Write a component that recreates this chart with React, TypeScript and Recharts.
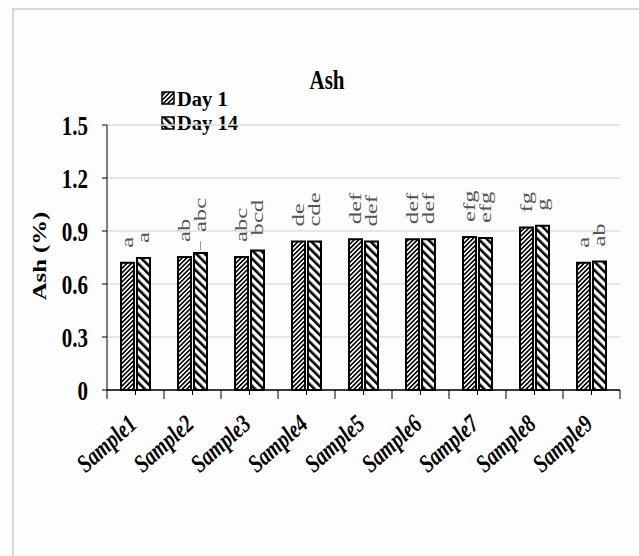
import { BarChart, Bar, XAxis, YAxis, CartesianGrid, LabelList } from 'recharts';

const samples = ['Sample1', 'Sample2', 'Sample3', 'Sample4', 'Sample5', 'Sample6', 'Sample7', 'Sample8', 'Sample9'];
const day1 = [0.72, 0.753, 0.753, 0.84, 0.854, 0.854, 0.866, 0.92, 0.72];
const day14 = [0.747, 0.775, 0.79, 0.84, 0.84, 0.854, 0.86, 0.93, 0.727];
const day1Letters = ['a', 'ab', 'abc', 'de', 'def', 'def', 'efg', 'fg', 'a'];
const day14Letters = ['a', 'abc', 'bcd', 'cde', 'def', 'def', 'efg', 'g', 'ab'];
const yTicks = [0, 0.3, 0.6, 0.9, 1.2, 1.5];

const data = samples.map((name, i) => ({
  name,
  day1: day1[i],
  day14: day14[i],
  l1: day1Letters[i],
  l14: day14Letters[i],
}));

const serif = '"Liberation Serif", "DejaVu Serif", serif';
const band = 513 / samples.length;

// letter label above each bar, rotated; `leader` marks the one raised with a small line
const letterLabel = (leader: number) => (props: any) => {
  const { x, y, width, value, index } = props;
  const cx = Number(x) + Number(width) / 2;
  const top = Number(y);
  const raised = index === leader;
  const lift = raised ? 21 : 15;
  return (
    <g>
      {raised && <line x1={cx} x2={cx} y1={top - 3} y2={top - 12} stroke="#999" strokeWidth={1} />}
      <text
        transform={`translate(${cx},${top - lift}) rotate(-90) scale(1.45,1)`}
        dominantBaseline="central"
        fontFamily={serif}
        fontSize={17}
        fill="#555"
      >
        {value}
      </text>
    </g>
  );
};

const SampleTick = (props: any) => {
  const { x, y, payload, index } = props;
  const axisY = y - 7;
  const left = x - band / 2;
  return (
    <g>
      <line x1={left} x2={left} y1={axisY} y2={axisY + 9} stroke="#000" strokeWidth={1} />
      {index === samples.length - 1 && (
        <line x1={x + band / 2} x2={x + band / 2} y1={axisY} y2={axisY + 9} stroke="#000" strokeWidth={1} />
      )}
      <text
        transform={`translate(${x + 3},${y + 29}) rotate(-42) scale(1,1.25)`}
        textAnchor="end"
        fontFamily={serif}
        fontWeight="bold"
        fontStyle="italic"
        fontSize={20}
        fill="#000"
      >
        {payload.value}
      </text>
    </g>
  );
};

const ValueTick = (props: any) => {
  const { x, y, payload } = props;
  return (
    <text
      transform={`translate(${x},${y}) scale(1,1.35)`}
      textAnchor="end"
      dominantBaseline="central"
      fontFamily={serif}
      fontWeight="bold"
      fontSize={21}
      fill="#000"
    >
      {payload.value}
    </text>
  );
};

function Swatch({ fill }: { fill: string }) {
  return (
    <svg width={14} height={14} style={{ display: 'block' }}>
      <rect x={1} y={1} width={12} height={12} fill={fill} stroke="#000" strokeWidth={1.5} />
    </svg>
  );
}

export default function App() {
  return (
    <div style={{ position: 'absolute', left: 0, top: 0, width: 639, height: 556, background: '#fdfdfd' }}>
      <div style={{ position: 'absolute', left: 12, top: 8, right: 0, height: 1.5, background: '#d6d6d6' }} />
      <div style={{ position: 'absolute', left: 12, top: 8, bottom: 0, width: 1.5, background: '#d6d6d6' }} />
      <div
        style={{
          position: 'absolute', left: 297, top: 70, width: 60, height: 20, textAlign: 'center',
          fontFamily: serif, fontWeight: 'bold', fontSize: 21, lineHeight: '20px', transform: 'scaleY(1.25)',
        }}
      >
        Ash
      </div>
      {[
        { label: 'Day 1', fill: 'url(#hatchFine)', top: 88 },
        { label: 'Day 14', fill: 'url(#hatchWide)', top: 112.5 },
      ].map((l) => (
        <div
          key={l.label}
          style={{
            position: 'absolute', left: 161, top: l.top, height: 20, display: 'flex', alignItems: 'center', gap: 2,
            fontFamily: serif, fontWeight: 'bold', fontSize: 19,
          }}
        >
          <Swatch fill={l.fill} />
          <span
            style={{
              display: 'inline-block', lineHeight: '15px', whiteSpace: 'nowrap',
              transform: 'scale(1.08,1.15)', transformOrigin: 'left center',
            }}
          >
            {l.label}
          </span>
        </div>
      ))}
      <div
        style={{
          position: 'absolute', left: 40, top: 256, whiteSpace: 'nowrap',
          transform: 'translate(-50%,-50%) rotate(-90deg) scaleX(1.3)',
          fontFamily: serif, fontWeight: 'bold', fontSize: 19, lineHeight: '20px', zIndex: 1,
        }}
      >
        Ash (%)
      </div>
      <BarChart
        width={639}
        height={556}
        data={data}
        margin={{ top: 125, right: 19, left: 0, bottom: 0 }}
        barCategoryGap={14}
        barGap={3}
        style={{ position: 'absolute', left: 0, top: 0 }}
      >
        <defs>
          <pattern id="hatchFine" width={3.2} height={3.2} patternUnits="userSpaceOnUse" patternTransform="rotate(45)">
            <rect width={3.2} height={3.2} fill="#fff" />
            <rect width={1.6} height={3.2} fill="#000" />
          </pattern>
          <pattern id="hatchWide" width={6} height={6} patternUnits="userSpaceOnUse" patternTransform="rotate(-45)">
            <rect width={6} height={6} fill="#fff" />
            <rect width={2.6} height={6} fill="#000" />
          </pattern>
        </defs>
        <CartesianGrid vertical={false} stroke="#dcdcdc" strokeWidth={1.5} />
        <XAxis
          dataKey="name"
          height={166}
          axisLine={{ stroke: '#000', strokeWidth: 1.5 }}
          tickLine={{ stroke: '#000' }}
          tickSize={5}
          interval={0}
          tick={<SampleTick />}
        />
        <YAxis
          width={107}
          domain={[0, 1.5]}
          ticks={yTicks}
          interval={0}
          axisLine={{ stroke: '#000', strokeWidth: 1 }}
          tickLine={{ stroke: '#000' }}
          tickSize={5}
          tickMargin={14}
          tick={<ValueTick />}
        />
        <Bar dataKey="day1" fill="url(#hatchFine)" stroke="#000" strokeWidth={2} isAnimationActive={false}>
          <LabelList dataKey="l1" content={letterLabel(-1)} />
        </Bar>
        <Bar dataKey="day14" fill="url(#hatchWide)" stroke="#000" strokeWidth={2} isAnimationActive={false}>
          <LabelList dataKey="l14" content={letterLabel(1)} />
        </Bar>
      </BarChart>
    </div>
  );
}
